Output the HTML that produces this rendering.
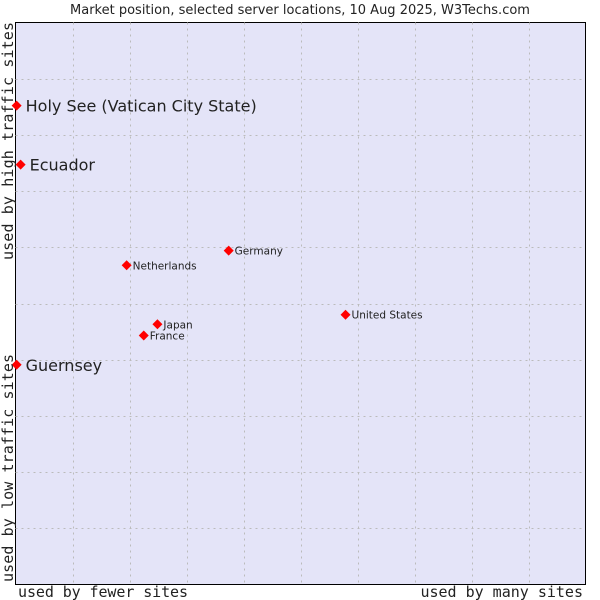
<!DOCTYPE html>
<html><head><meta charset="utf-8"><style>
html,body{margin:0;padding:0;background:#fff;width:600px;height:600px;overflow:hidden}
svg text{font-family:"DejaVu Sans","Liberation Sans",sans-serif;fill:#222}
.mono{font-family:"DejaVu Sans Mono","Liberation Mono",monospace}
</style></head><body>
<svg id="chart" width="600" height="600">
<text x="300" y="14" text-anchor="middle" font-size="13">Market position, selected server locations, 10 Aug 2025, W3Techs.com</text>
<rect x="15.5" y="22.5" width="570" height="562" fill="#e4e4f8" stroke="#000" stroke-width="1"/>
<g id="grid"></g>
<g id="points"></g>
<text class="mono" x="18" y="597" font-size="15" textLength="170">used by fewer sites</text>
<text class="mono" x="583" y="597" font-size="15" text-anchor="end">used by many sites</text>
<text class="mono" transform="translate(13,260) rotate(-90)" font-size="15" textLength="238">used by high traffic sites</text>
<text class="mono" transform="translate(13,582) rotate(-90)" font-size="15" textLength="228">used by low traffic sites</text>
</svg>
<script>
const names=["Holy See (Vatican City State)","Ecuador","Guernsey","Germany","Netherlands","United States","Japan","France"];
const xVals=[0.2,0.9,0.2,37.4,19.5,57.9,24.9,22.5];
const yVals=[85.2,74.7,39.1,59.4,56.8,48.0,46.3,44.3];
const bigLabel=[true,true,true,false,false,false,false,false];
const L=15.5,R=585.5,T=22.5,B=584.5;
function sx(v){return L+(R-L)*v/100;}
function sy(v){return B-(B-T)*v/100;}
const NS="http://www.w3.org/2000/svg";
const grid=document.getElementById('grid');
for(let i=1;i<10;i++){
  const v=document.createElementNS(NS,'line');
  const x=Math.round(sx(i*10))+0.5;
  v.setAttribute('x1',x);v.setAttribute('x2',x);v.setAttribute('y1',T);v.setAttribute('y2',B);
  v.setAttribute('stroke','#bbb');v.setAttribute('stroke-dasharray','2,4');
  
  
  grid.appendChild(v);
  const h=document.createElementNS(NS,'line');
  const y=Math.round(sy(i*10))+0.5;
  h.setAttribute('y1',y);h.setAttribute('y2',y);h.setAttribute('x1',L);h.setAttribute('x2',R);
  h.setAttribute('stroke','#bbb');h.setAttribute('stroke-dasharray','2,4');
  
  
  grid.appendChild(h);
}
const pts=document.getElementById('points');
names.forEach((n,i)=>{
  const x=sx(xVals[i]),y=sy(yVals[i]);
  const p=document.createElementNS(NS,'polygon');
  p.setAttribute('points',`${x},${y-5} ${x+5},${y} ${x},${y+5} ${x-5},${y}`);
  p.setAttribute('fill','#f00');
  
  
  pts.appendChild(p);
  const t=document.createElementNS(NS,'text');
  t.setAttribute('x',x+(bigLabel[i]?9:6));
  t.setAttribute('y',y+(bigLabel[i]?6:4));
  t.setAttribute('font-size',bigLabel[i]?16:10.5);
  t.textContent=n;
  
  
  pts.appendChild(t);
});
</script>
</body></html>
